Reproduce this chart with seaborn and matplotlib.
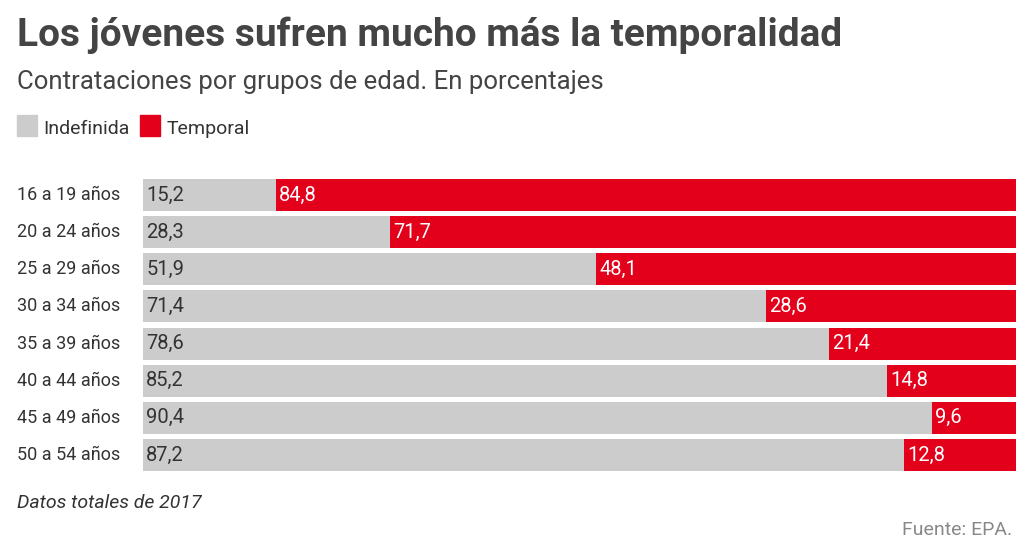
import matplotlib
matplotlib.use('Agg')
import matplotlib.pyplot as plt
import seaborn as sns
import pandas as pd

# datos: contrataciones por grupos de edad (EPA 2017)
grupos = ['16 a 19 años', '20 a 24 años', '25 a 29 años', '30 a 34 años',
          '35 a 39 años', '40 a 44 años', '45 a 49 años', '50 a 54 años']
indefinida = [15.2, 28.3, 51.9, 71.4, 78.6, 85.2, 90.4, 87.2]
temporal = [84.8, 71.7, 48.1, 28.6, 21.4, 14.8, 9.6, 12.8]

GRIS = '#cccccc'
ROJO = '#e2001a'
TEXTO = '#333333'

sns.set_theme(style='white')
plt.rcParams['font.family'] = ['Roboto', 'DejaVu Sans']

df = pd.DataFrame({'grupo': grupos, 'indefinida': indefinida, 'temporal': temporal})
df['total'] = df['indefinida'] + df['temporal']

fig = plt.figure(figsize=(10.24, 5.52), dpi=100)
ax = fig.add_axes([143 / 1024, 1 - 471 / 552, 873 / 1024, 292 / 552])

h = 0.86
# rojo = barra completa, gris encima
sns.barplot(data=df, x='total', y='grupo', color=ROJO, width=h, ax=ax,
            saturation=1, linewidth=0)
sns.barplot(data=df, x='indefinida', y='grupo', color=GRIS, width=h, ax=ax,
            saturation=1, linewidth=0)

pad = 0.35
for i, (a, b) in enumerate(zip(indefinida, temporal)):
    ax.text(pad, i, f'{a:.1f}'.replace('.', ','), va='center', ha='left',
            fontsize=14.5, color=TEXTO)
    ax.text(a + pad, i, f'{b:.1f}'.replace('.', ','), va='center', ha='left',
            fontsize=14.5, color='white')

ax.set_xlim(0, 100)
ax.set_ylim(len(grupos) - 1 + h / 2, -h / 2)
ax.set_xlabel('')
ax.set_ylabel('')
ax.set_xticks([])
ax.set_yticks([])
for s in ax.spines.values():
    s.set_visible(False)

for i, g in enumerate(grupos):
    ax.text((17 - 143) / 873 * 100, i, g, va='center', ha='left',
            fontsize=13, color=TEXTO)

fig.text(17 / 1024, 1 - 35 / 552, 'Los jóvenes sufren mucho más la temporalidad',
         fontsize=28, fontweight='bold', color='#444444', va='center', ha='left')
fig.text(17 / 1024, 1 - 82 / 552, 'Contrataciones por grupos de edad. En porcentajes',
         fontsize=18.5, color='#444444', va='center', ha='left')

# leyenda
fig.patches.append(plt.Rectangle((17 / 1024, 1 - 136 / 552), 20 / 1024, 21 / 552,
                                 transform=fig.transFigure, color=GRIS))
fig.text(43 / 1024, 1 - 129 / 552, 'Indefinida', fontsize=14, color=TEXTO, va='center')
fig.patches.append(plt.Rectangle((140 / 1024, 1 - 136 / 552), 20 / 1024, 21 / 552,
                                 transform=fig.transFigure, color=ROJO))
fig.text(167 / 1024, 1 - 129 / 552, 'Temporal', fontsize=14, color=TEXTO, va='center')

fig.text(17 / 1024, 1 - 503 / 552, 'Datos totales de 2017', fontsize=14,
         style='italic', color=TEXTO, va='center')
fig.text(1012 / 1024, 1 - 530 / 552, 'Fuente: EPA.', fontsize=14,
         color='#888888', va='center', ha='right')

fig.savefig('out.png', dpi=100, facecolor='white')
